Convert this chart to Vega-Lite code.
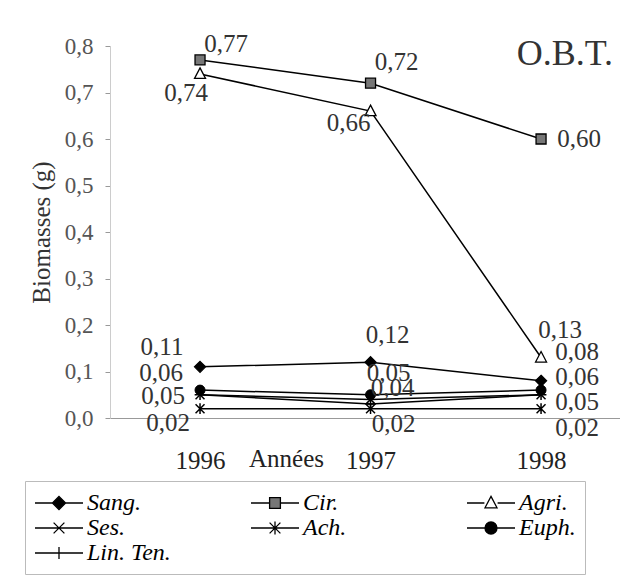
{
  "$schema": "https://vega.github.io/schema/vega-lite/v6.json",
  "autosize": "none",
  "width": 510,
  "height": 372,
  "padding": {"left": 110, "top": 46, "right": 0, "bottom": 160},
  "background": "white",
  "config": {
    "locale": {"number": {"decimal": ",", "thousands": " ", "grouping": [3], "currency": ["", " €"]}},
    "view": {"stroke": null},
    "font": "Liberation Serif",
    "text": {"font": "Liberation Serif", "fontSize": 25, "color": "#333"}
  },
  "title": {
    "text": "O.B.T.",
    "anchor": "end",
    "frame": "group",
    "font": "Liberation Serif",
    "fontSize": 36,
    "fontWeight": "normal",
    "color": "#333",
    "baseline": "alphabetic",
    "offset": 0,
    "dx": -7,
    "dy": 69
  },
  "data": {
    "values": [
      {"series": "Sang.", "year": 1996, "value": 0.11},
      {"series": "Sang.", "year": 1997, "value": 0.12},
      {"series": "Sang.", "year": 1998, "value": 0.08},
      {"series": "Cir.", "year": 1996, "value": 0.77},
      {"series": "Cir.", "year": 1997, "value": 0.72},
      {"series": "Cir.", "year": 1998, "value": 0.60},
      {"series": "Agri.", "year": 1996, "value": 0.74},
      {"series": "Agri.", "year": 1997, "value": 0.66},
      {"series": "Agri.", "year": 1998, "value": 0.13},
      {"series": "Ses.", "year": 1996, "value": 0.05},
      {"series": "Ses.", "year": 1997, "value": 0.04},
      {"series": "Ses.", "year": 1998, "value": 0.05},
      {"series": "Ach.", "year": 1996, "value": 0.02},
      {"series": "Ach.", "year": 1997, "value": 0.02},
      {"series": "Ach.", "year": 1998, "value": 0.02},
      {"series": "Euph.", "year": 1996, "value": 0.06},
      {"series": "Euph.", "year": 1997, "value": 0.05},
      {"series": "Euph.", "year": 1998, "value": 0.06},
      {"series": "Lin. Ten.", "year": 1996, "value": 0.05},
      {"series": "Lin. Ten.", "year": 1997, "value": 0.03},
      {"series": "Lin. Ten.", "year": 1998, "value": 0.05}
    ]
  },
  "encoding": {
    "x": {
      "field": "year", "type": "quantitative",
      "scale": {"domain": [1995.472, 1998.463], "nice": false, "zero": false},
      "axis": {
        "values": [1996, 1997, 1998], "format": "d",
        "labelFont": "Liberation Serif", "labelFontSize": 25, "labelColor": "#222",
        "labelPadding": 30, "ticks": false, "tickSize": 0,
        "domainColor": "#999", "domainWidth": 1, "grid": false,
        "title": "Années", "titleFont": "Liberation Serif", "titleFontSize": 25,
        "titleFontWeight": "normal", "titleColor": "#222",
        "titleX": 176, "titleY": 40, "titleBaseline": "middle", "titleAlign": "center"
      }
    },
    "y": {
      "field": "value", "type": "quantitative",
      "scale": {"domain": [0, 0.8], "nice": false},
      "axis": {
        "values": [0, 0.1, 0.2, 0.3, 0.4, 0.5, 0.6, 0.7, 0.8], "format": ".1f",
        "labelFont": "Liberation Serif", "labelFontSize": 23, "labelColor": "#555",
        "labelPadding": 12, "tickSize": 5, "tickColor": "#999",
        "domainColor": "#ccc", "grid": false,
        "title": "Biomasses (g)", "titleFont": "Liberation Serif", "titleFontSize": 25,
        "titleFontWeight": "normal", "titleColor": "#333", "titlePadding": 10
      }
    }
  },
  "layer": [
    {
      "mark": {"type": "line", "color": "black", "strokeWidth": 1.5},
      "encoding": {"detail": {"field": "series", "type": "nominal"}}
    },
    {"transform": [{"filter": "datum.series == 'Sang.'"}], "mark": {"type": "point", "shape": "M0,-1.1L1.1,0L0,1.1L-1.1,0Z", "filled": true, "fill": "black", "stroke": "black", "strokeWidth": 1.3, "size": 100, "opacity": 1}},
    {"transform": [{"filter": "datum.series == 'Cir.'"}], "mark": {"type": "point", "shape": "M-1,-1H1V1H-1Z", "filled": true, "fill": "#777", "stroke": "black", "strokeWidth": 1.3, "size": 100, "opacity": 1}},
    {"transform": [{"filter": "datum.series == 'Agri.'"}], "mark": {"type": "point", "shape": "M0,-1.2L1.1,0.9L-1.1,0.9Z", "filled": true, "fill": "white", "stroke": "black", "strokeWidth": 1.3, "size": 100, "opacity": 1}},
    {"transform": [{"filter": "datum.series == 'Ses.'"}], "mark": {"type": "point", "shape": "M-1,-1L1,1M-1,1L1,-1", "filled": false, "stroke": "black", "strokeWidth": 1.5, "size": 80, "opacity": 1}},
    {"transform": [{"filter": "datum.series == 'Ach.'"}], "mark": {"type": "point", "shape": "M-1,-1L1,1M-1,1L1,-1M0,-1.2L0,1.2", "filled": false, "stroke": "black", "strokeWidth": 1.5, "size": 80, "opacity": 1}},
    {"transform": [{"filter": "datum.series == 'Euph.'"}], "mark": {"type": "point", "shape": "circle", "filled": true, "fill": "black", "stroke": "black", "strokeWidth": 1, "size": 100, "opacity": 1}},
    {"transform": [{"filter": "datum.series == 'Lin. Ten.'"}], "mark": {"type": "point", "shape": "M-1.2,0H1.2M0,-1.2V1.2", "filled": false, "stroke": "black", "strokeWidth": 1.5, "size": 80, "opacity": 1}},
    {
      "mark": {"type": "point", "filled": true, "stroke": "black", "opacity": 0},
      "encoding": {
        "shape": {
          "field": "series", "type": "nominal",
          "scale": {
            "domain": ["Sang.", "Cir.", "Agri.", "Ses.", "Ach.", "Euph.", "Lin. Ten."],
            "range": [
              "M-1,0H0.45M1.55,0H3M1,-0.55L1.55,0L1,0.55L0.45,0Z",
              "M-1,0H0.55M1.45,0H3M0.55,-0.45H1.45V0.45H0.55Z",
              "M-1,0H0.45M1.55,0H3M1,-0.55L1.5,0.4L0.5,0.4Z",
              "M-1,0H3M0.55,-0.45L1.45,0.45M0.55,0.45L1.45,-0.45",
              "M-1,0H3M0.55,-0.45L1.45,0.45M0.55,0.45L1.45,-0.45M1,-0.55V0.55",
              "M-1,0H0.5M1.5,0H3M1.5,0A0.5,0.5 0 1,1 0.5,0A0.5,0.5 0 1,1 1.5,0Z",
              "M-1,0H3M1,-0.5V0.5"
            ]
          },
          "legend": {
            "title": null, "orient": "none", "legendX": -85, "legendY": 435,
            "direction": "horizontal", "columns": 3, "columnPadding": 77, "rowPadding": 0,
            "gridAlign": "all",
            "symbolSize": 576, "symbolStrokeWidth": 1.3, "symbolStrokeColor": "black",
            "labelFont": "Liberation Serif", "labelFontStyle": "italic", "labelFontSize": 24,
            "labelColor": "black", "labelOffset": 27, "strokeColor": "#bbb", "padding": 9,
            "symbolOpacity": 1,
            "encode": {"symbols": {"update": {"stroke": {"value": "black"}, "strokeWidth": {"value": 1.3}, "opacity": {"value": 1}}}}
          }
        },
        "fill": {
          "field": "series", "type": "nominal",
          "scale": {
            "domain": ["Sang.", "Cir.", "Agri.", "Ses.", "Ach.", "Euph.", "Lin. Ten."],
            "range": ["black", "#777", "white", "black", "black", "black", "black"]
          },
          "legend": {
            "title": null, "orient": "none", "legendX": -85, "legendY": 435,
            "direction": "horizontal", "columns": 3, "columnPadding": 77, "rowPadding": 0,
            "gridAlign": "all",
            "symbolSize": 576, "symbolStrokeWidth": 1.3, "symbolStrokeColor": "black",
            "labelFont": "Liberation Serif", "labelFontStyle": "italic", "labelFontSize": 24,
            "labelColor": "black", "labelOffset": 27, "strokeColor": "#bbb", "padding": 9,
            "symbolOpacity": 1,
            "encode": {"symbols": {"update": {"stroke": {"value": "black"}, "strokeWidth": {"value": 1.3}, "opacity": {"value": 1}}}}
          }
        }
      }
    },
    {"transform": [{"filter": "datum.series == 'Cir.' && datum.year == 1996"}], "mark": {"type": "text", "font": "Liberation Serif", "fontSize": 25, "color": "#333", "dx": 26, "dy": -16}, "encoding": {"text": {"field": "value", "type": "quantitative", "format": ".2f"}}},
    {"transform": [{"filter": "datum.series == 'Cir.' && datum.year == 1997"}], "mark": {"type": "text", "font": "Liberation Serif", "fontSize": 25, "color": "#333", "dx": 26, "dy": -21}, "encoding": {"text": {"field": "value", "type": "quantitative", "format": ".2f"}}},
    {"transform": [{"filter": "datum.series == 'Cir.' && datum.year == 1998"}], "mark": {"type": "text", "font": "Liberation Serif", "fontSize": 25, "color": "#333", "dx": 38, "dy": 0}, "encoding": {"text": {"field": "value", "type": "quantitative", "format": ".2f"}}},
    {"transform": [{"filter": "datum.series == 'Agri.' && datum.year == 1996"}], "mark": {"type": "text", "font": "Liberation Serif", "fontSize": 25, "color": "#333", "dx": -14, "dy": 19}, "encoding": {"text": {"field": "value", "type": "quantitative", "format": ".2f"}}},
    {"transform": [{"filter": "datum.series == 'Agri.' && datum.year == 1997"}], "mark": {"type": "text", "font": "Liberation Serif", "fontSize": 25, "color": "#333", "dx": -22, "dy": 12}, "encoding": {"text": {"field": "value", "type": "quantitative", "format": ".2f"}}},
    {"transform": [{"filter": "datum.series == 'Agri.' && datum.year == 1998"}], "mark": {"type": "text", "font": "Liberation Serif", "fontSize": 25, "color": "#333", "dx": 19, "dy": -28}, "encoding": {"text": {"field": "value", "type": "quantitative", "format": ".2f"}}},
    {"transform": [{"filter": "datum.series == 'Sang.' && datum.year == 1996"}], "mark": {"type": "text", "font": "Liberation Serif", "fontSize": 25, "color": "#333", "dx": -38, "dy": -20}, "encoding": {"text": {"field": "value", "type": "quantitative", "format": ".2f"}}},
    {"transform": [{"filter": "datum.series == 'Sang.' && datum.year == 1997"}], "mark": {"type": "text", "font": "Liberation Serif", "fontSize": 25, "color": "#333", "dx": 17, "dy": -27}, "encoding": {"text": {"field": "value", "type": "quantitative", "format": ".2f"}}},
    {"transform": [{"filter": "datum.series == 'Sang.' && datum.year == 1998"}], "mark": {"type": "text", "font": "Liberation Serif", "fontSize": 25, "color": "#333", "dx": 36, "dy": -29}, "encoding": {"text": {"field": "value", "type": "quantitative", "format": ".2f"}}},
    {"transform": [{"filter": "datum.series == 'Euph.' && datum.year == 1996"}], "mark": {"type": "text", "font": "Liberation Serif", "fontSize": 25, "color": "#333", "dx": -39, "dy": -17}, "encoding": {"text": {"field": "value", "type": "quantitative", "format": ".2f"}}},
    {"transform": [{"filter": "datum.series == 'Euph.' && datum.year == 1997"}], "mark": {"type": "text", "font": "Liberation Serif", "fontSize": 25, "color": "#333", "dx": 18, "dy": -22}, "encoding": {"text": {"field": "value", "type": "quantitative", "format": ".2f"}}},
    {"transform": [{"filter": "datum.series == 'Euph.' && datum.year == 1998"}], "mark": {"type": "text", "font": "Liberation Serif", "fontSize": 25, "color": "#333", "dx": 36, "dy": -13}, "encoding": {"text": {"field": "value", "type": "quantitative", "format": ".2f"}}},
    {"transform": [{"filter": "datum.series == 'Ses.' && datum.year == 1996"}], "mark": {"type": "text", "font": "Liberation Serif", "fontSize": 25, "color": "#333", "dx": -37, "dy": 1}, "encoding": {"text": {"field": "value", "type": "quantitative", "format": ".2f"}}},
    {"transform": [{"filter": "datum.series == 'Ses.' && datum.year == 1997"}], "mark": {"type": "text", "font": "Liberation Serif", "fontSize": 25, "color": "#333", "dx": 22, "dy": -11}, "encoding": {"text": {"field": "value", "type": "quantitative", "format": ".2f"}}},
    {"transform": [{"filter": "datum.series == 'Ses.' && datum.year == 1998"}], "mark": {"type": "text", "font": "Liberation Serif", "fontSize": 25, "color": "#333", "dx": 36, "dy": 7}, "encoding": {"text": {"field": "value", "type": "quantitative", "format": ".2f"}}},
    {"transform": [{"filter": "datum.series == 'Ach.' && datum.year == 1996"}], "mark": {"type": "text", "font": "Liberation Serif", "fontSize": 25, "color": "#333", "dx": -32, "dy": 14}, "encoding": {"text": {"field": "value", "type": "quantitative", "format": ".2f"}}},
    {"transform": [{"filter": "datum.series == 'Ach.' && datum.year == 1997"}], "mark": {"type": "text", "font": "Liberation Serif", "fontSize": 25, "color": "#333", "dx": 23, "dy": 15}, "encoding": {"text": {"field": "value", "type": "quantitative", "format": ".2f"}}},
    {"transform": [{"filter": "datum.series == 'Ach.' && datum.year == 1998"}], "mark": {"type": "text", "font": "Liberation Serif", "fontSize": 25, "color": "#333", "dx": 36, "dy": 19}, "encoding": {"text": {"field": "value", "type": "quantitative", "format": ".2f"}}}
  ]
}
